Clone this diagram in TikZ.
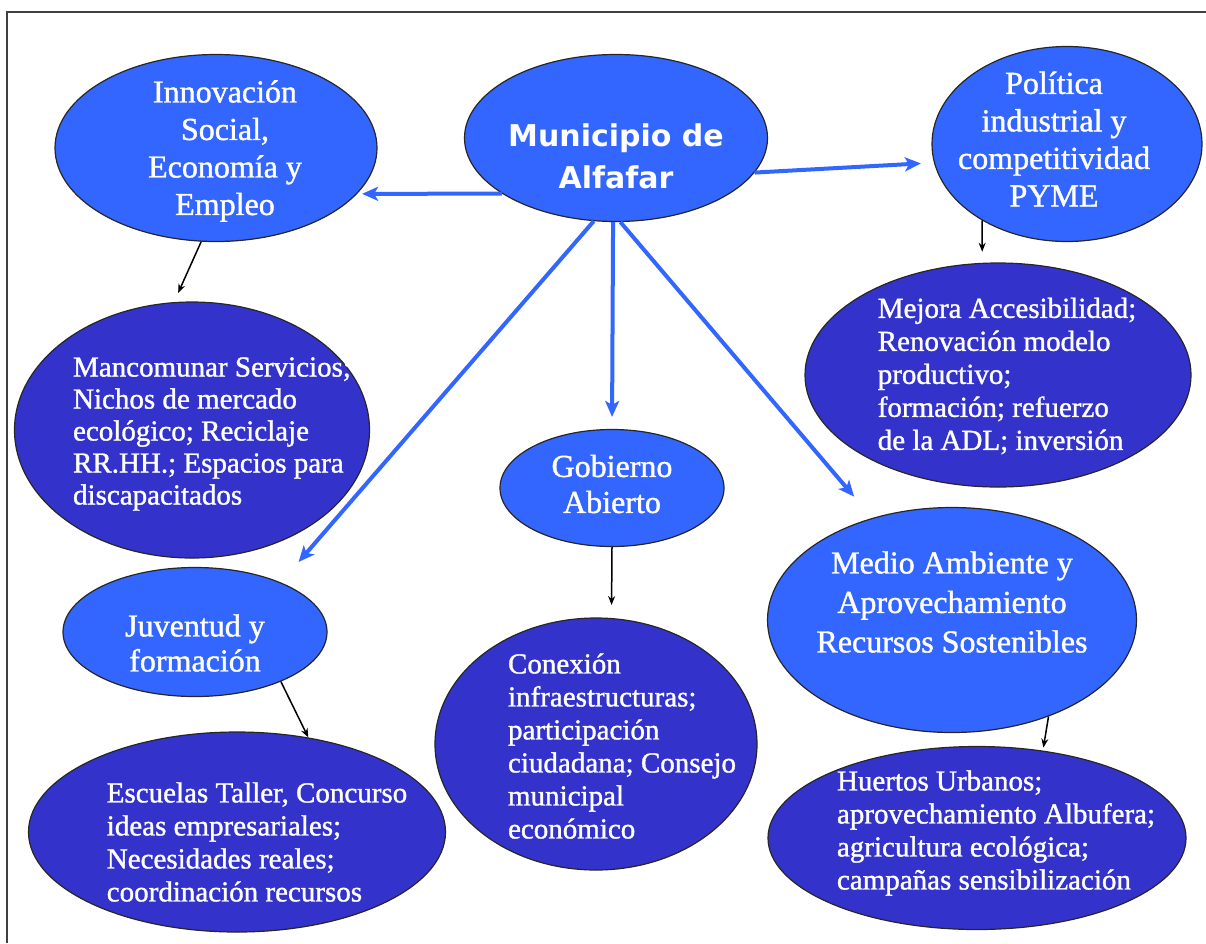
\documentclass[tikz,border=0pt]{standalone}
\usepackage{fontspec}
\setmainfont{Liberation Serif}
\newfontfamily\nodefont{Liberation Serif}[FakeBold=1.2]
\newfontfamily\hubfont{DejaVu Sans}
\usepackage{tikz}
\usetikzlibrary{positioning,shapes.geometric,arrows.meta}
\definecolor{topicblue}{RGB}{51,102,255}
\definecolor{taskblue}{RGB}{51,51,204}
\tikzset{
  topic/.style={ellipse,draw=black!85,line width=1.2pt,fill=topicblue,inner sep=0pt},
  hub/.style={topic},
  task/.style={ellipse,draw=black!85,line width=1.2pt,fill=taskblue,inner sep=0pt},
  hubtext/.style={text=white,align=center,inner sep=0pt,font=\hubfont\bfseries\fontsize{30}{42}\selectfont},
  topictext/.style={text=white,align=center,inner sep=0pt,font=\nodefont\fontsize{32}{37.5}\selectfont},
  tasktext/.style={text=white,align=left,inner sep=0pt,font=\nodefont\fontsize{29}{33}\selectfont},
  branch/.style={draw=topicblue,line width=4pt,-{Stealth[length=16pt,width=14pt,inset=4pt]}},
  detail/.style={draw=black,line width=1.5pt,-{Stealth[length=9pt,width=7pt]}},
  frameline/.style={draw=black!75,line width=1.2pt}
}
\begin{document}
\begin{tikzpicture}[x=1pt,y=-1pt,on grid]
  \useasboundingbox (0,0) rectangle (1206,943);
  \draw[frameline] (7,943) -- (7,12) -- (1206,12);
  % centre and first ring
  \node[hub,minimum width=303pt,minimum height=167pt,
        label={[hubtext,yshift=-18pt]center:{Municipio de\\Alfafar}}] (mun) at (616,138) {};
  \node[topic,minimum width=322pt,minimum height=187pt,below left=10pt and 400pt of mun,
        label={[topictext,xshift=9pt,yshift=-3pt]center:{Innovación\\Social,\\Economía y\\Empleo}}] (inno) {};
  \node[topic,minimum width=270pt,minimum height=195pt,below right=6pt and 451pt of mun,
        label={[topictext,xshift=-13pt,yshift=5pt]center:{Política\\industrial y\\competitividad\\PYME}}] (poli) {};
  \node[topic,minimum width=224pt,minimum height=117pt,below left=350pt and 4pt of mun,
        label={[topictext,font=\nodefont\fontsize{32}{36}\selectfont,yshift=4pt]center:{Gobierno\\Abierto}}] (gob) {};
  \node[task,minimum width=355pt,minimum height=256pt,below left=282pt and 24pt of inno,
        label={[tasktext,font=\nodefont\fontsize{29}{32}\selectfont,xshift=20pt,yshift=-4pt]center:{Mancomunar Servicios;\\Nichos de mercado\\ecológico; Reciclaje\\RR.HH.; Espacios para\\discapacitados}}] (manc) {};
  \node[topic,minimum width=264pt,minimum height=129pt,below right=202pt and 3pt of manc,
        label={[topictext,font=\nodefont\fontsize{32}{35}\selectfont,yshift=-11pt]center:{Juventud y\\formación}}] (juv) {};
  \node[task,minimum width=417pt,minimum height=200pt,below right=200pt and 42pt of juv,
        label={[tasktext,xshift=20pt,yshift=-10pt]center:{Escuelas Taller, Concurso\\ideas empresariales;\\Necesidades reales;\\coordinación recursos}}] (esc) {};
  \node[task,minimum width=386pt,minimum height=224pt,below left=231pt and 69pt of poli,
        label={[tasktext,xshift=9pt,yshift=-1pt]center:{Mejora Accesibilidad;\\Renovación modelo\\productivo;\\formación; refuerzo\\de la ADL; inversión}}] (mej) {};
  \node[topic,minimum width=369pt,minimum height=225pt,below left=245pt and 46pt of mej,
        label={[topictext,font=\nodefont\fontsize{32}{39.5}\selectfont,yshift=18pt]center:{Medio Ambiente y\\Aprovechamiento\\Recursos Sostenibles}}] (medio) {};
  \node[task,minimum width=418pt,minimum height=183pt,below right=218pt and 25pt of medio,
        label={[tasktext,xshift=19pt,yshift=5pt]center:{Huertos Urbanos;\\aprovechamiento Albufera;\\agricultura ecológica;\\campañas sensibilización}}] (hue) {};
  \node[task,minimum width=322pt,minimum height=252pt,below left=256pt and 16pt of gob,
        label={[tasktext,xshift=26pt,yshift=-2pt]center:{Conexión\\infraestructuras;\\participación\\ciudadana; Consejo\\municipal\\económico}}] (con) {};
  % blue branches
  \draw[branch,shorten >=5pt] (mun.206) -- (inno.342);
  \draw[branch,shorten >=13pt] (mun.346) -- (poli.188);
  \draw[branch,shorten >=12pt] (mun.268) -- (gob.north);
  \draw[branch,shorten >=27pt] (mun.255) -- (juv.30);
  \draw[branch,shorten >=28pt] (mun.273) -- (medio.128);
  % black details
  \draw[detail,shorten >=10pt] (inno.261) -- (manc.98);
  \draw[detail,shorten >=11pt] (poli.222) -- (mej.98);
  \draw[detail,shorten >=13pt] (gob.south) -- (con.83);
  \draw[detail,shorten >=3pt] (medio.315) -- (hue.53);
  \draw[detail] (juv.330) -- (esc.53);
\end{tikzpicture}
\end{document}
